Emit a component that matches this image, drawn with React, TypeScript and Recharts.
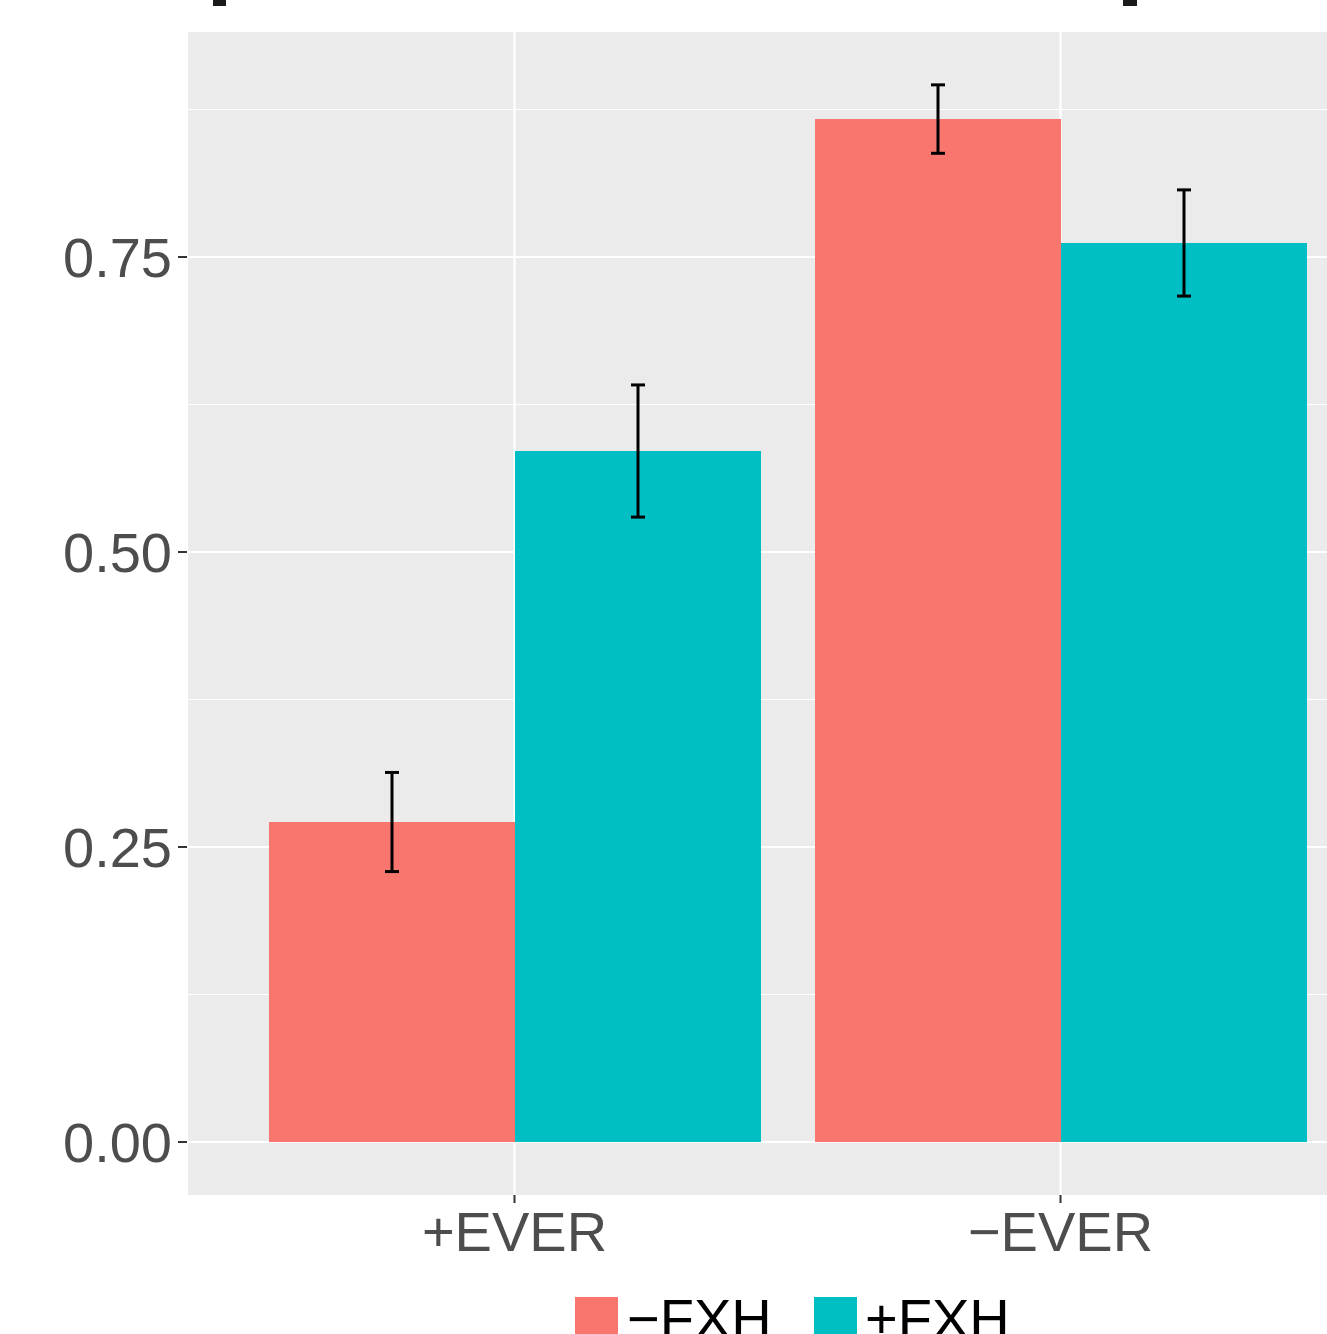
import React from "react";
import { BarChart, Bar, XAxis, YAxis, CartesianGrid, ErrorBar } from "recharts";

const categories = ["+EVER", "\u2212EVER"];
const minusFXH = [0.2712, 0.8669];
const minusFXHErr = [0.042, 0.029];
const plusFXH = [0.5856, 0.7619];
const plusFXHErr = [0.056, 0.045];
const yTicks = [0, 0.25, 0.5, 0.75];
const minorY = [0.125, 0.375, 0.625, 0.875];
const seriesNames = ["\u2212FXH", "+FXH"];
const seriesColors = ["#F8766D", "#00BFC4"];

const data = categories.map((c, i) => ({
  cat: c,
  m: minusFXH[i],
  mErr: minusFXHErr[i],
  p: plusFXH[i],
  pErr: plusFXHErr[i],
}));

const FONT = "'Liberation Sans', Arial, Helvetica, sans-serif";

export default function App() {
  return (
    <div style={{ position: "absolute", left: 0, top: 0, width: 1327, height: 1334, overflow: "hidden", background: "#fff" }}>
      <div style={{ position: "absolute", left: 213, top: 0, width: 13, height: 6, background: "#1a1a1a" }} />
      <div style={{ position: "absolute", left: 1123, top: 0, width: 14, height: 6, background: "#1a1a1a" }} />
      <div style={{ position: "absolute", left: 0, top: 0 }}>
        <BarChart
          width={1388}
          height={1334}
          data={data}
          margin={{ top: 32, right: 0, bottom: 0, left: 0 }}
          barGap={0}
          barCategoryGap={27.5}
        >
          <CartesianGrid
            fill="#EBEBEB"
            horizontal={true}
            vertical={false}
            horizontalValues={minorY}
            stroke="#FFFFFF"
            strokeWidth={1.1}
          />
          <CartesianGrid
            fillOpacity={0}
            horizontal={true}
            vertical={true}
            horizontalValues={yTicks}
            stroke="#FFFFFF"
            strokeWidth={2.2}
          />
          <XAxis
            dataKey="cat"
            height={139}
            padding={{ left: 54.5, right: 54.5 }}
            axisLine={false}
            tickSize={8}
            tickMargin={8}
            tickLine={{ stroke: "#333333", strokeWidth: 2 }}
            tick={{ fill: "#4D4D4D", fontSize: 56, fontFamily: FONT }}
            interval={0}
          />
          <YAxis
            type="number"
            width={187}
            domain={[-0.0449, 0.9407]}
            allowDataOverflow
            ticks={yTicks}
            tickFormatter={(v: number) => v.toFixed(2)}
            axisLine={false}
            tickSize={9}
            tickMargin={6}
            tickLine={{ stroke: "#333333", strokeWidth: 2 }}
            tick={{ fill: "#4D4D4D", fontSize: 56, fontFamily: FONT }}
          />
          <Bar dataKey="m" fill={seriesColors[0]} isAnimationActive={false}>
            <ErrorBar dataKey="mErr" width={7} stroke="#000" strokeWidth={3} />
          </Bar>
          <Bar dataKey="p" fill={seriesColors[1]} isAnimationActive={false}>
            <ErrorBar dataKey="pErr" width={7} stroke="#000" strokeWidth={3} />
          </Bar>
        </BarChart>
      </div>
      <svg style={{ position: "absolute", left: 0, top: 0 }} width={1327} height={1334}>
        <rect x={575} y={1297} width={43} height={43} fill={seriesColors[0]} />
        <text x={627} y={1338} fontSize={56} fontFamily={FONT} fill="#000">{seriesNames[0]}</text>
        <rect x={814} y={1297} width={43} height={43} fill={seriesColors[1]} />
        <text x={865} y={1338} fontSize={56} fontFamily={FONT} fill="#000">{seriesNames[1]}</text>
      </svg>
    </div>
  );
}
